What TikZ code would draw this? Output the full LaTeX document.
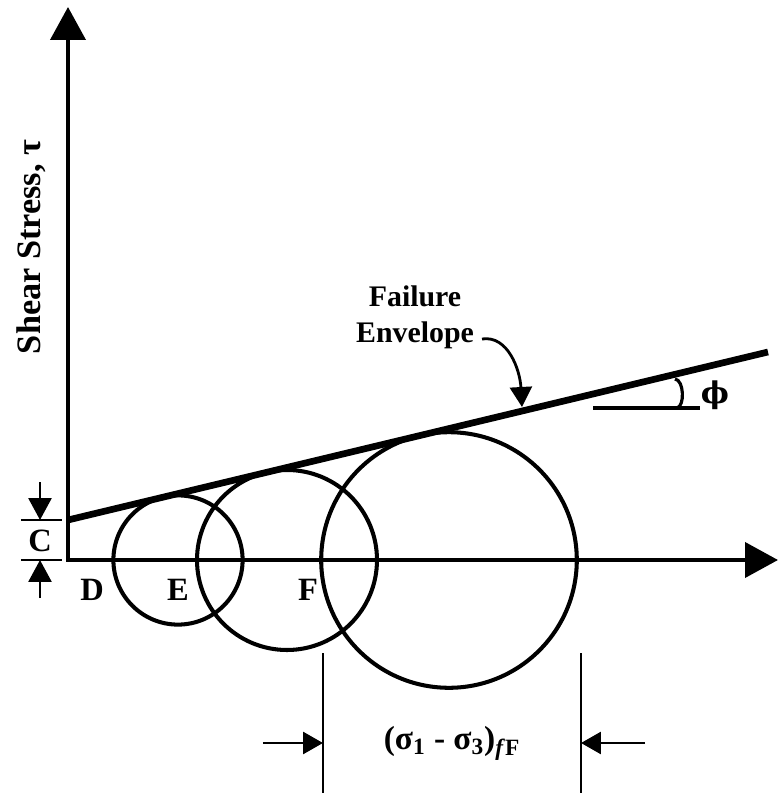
\documentclass[tikz,border=0pt]{standalone}
\usepackage{fontspec}
\setmainfont{Liberation Serif}
\newfontfamily\grec{DejaVu Serif}
\usetikzlibrary{arrows.meta}
\tikzset{
  axe/.style={line width=2.3pt,{Triangle[length=0.66cm,width=0.70cm]}-{Triangle[length=0.66cm,width=0.70cm]}},
  enveloppe/.style={line width=3.8pt},
  cercle/.style={line width=2.3pt},
  fleche/.style={line width=1.6pt,-{Triangle[length=0.40cm,width=0.44cm]}},
  cote/.style={line width=1.2pt},
  etiquette/.style={font=\bfseries\fontsize{17}{20.5}\selectfont,inner sep=0pt},
  lettre/.style={etiquette,font=\bfseries\fontsize{18.5}{21}\selectfont},
}

\begin{document}
\begin{tikzpicture}[x=0.02cm,y=0.02cm]
  \useasboundingbox (-68,-236) rectangle (710,560);
  % axes
  \coordinate (O) at (0,0);
  \coordinate (haut) at (0,553);
  \coordinate (droite) at (710,0);
  \draw[axe] (haut) -- (O) -- (droite);
  \node[etiquette,font=\bfseries\fontsize{19.5}{22}\selectfont,rotate=90] (ordonnee) at (-37,313) {Shear Stress, τ};
  % enveloppe de rupture et cercles
  \coordinate (C) at (0,40);
  \coordinate (bout) at (700,208);
  \draw[enveloppe] (C) -- (bout);
  \draw[cercle] (110,0) circle[radius=64.6];
  \draw[cercle] (219,0) circle[radius=90.0];
  \draw[cercle] (381,0) circle[radius=127.8];
  \node[lettre] (D) at (24,-30) {D};
  \node[lettre] (E) at (110,-30) {E};
  \node[lettre] (F) at (240,-30) {F};
  % cohesion C
  \coordinate (tHg) at (-47,40);
  \coordinate (tHd) at (-6,40);
  \coordinate (tBg) at (-47,0);
  \coordinate (tBd) at (-6,0);
  \draw[cote] (tHg) -- (tHd);
  \draw[cote] (tBg) -- (tBd);
  \coordinate (fH) at (-28,78);
  \coordinate (pH) at (-28,40);
  \coordinate (fB) at (-28,-38);
  \coordinate (pB) at (-28,0);
  \draw[fleche,-{Triangle[length=0.44cm,width=0.46cm]}] (fH) -- (pH);
  \draw[fleche,-{Triangle[length=0.44cm,width=0.46cm]}] (fB) -- (pB);
  \node[lettre] (coh) at (-28,19) {C};
  % legende de l'enveloppe
  \node[etiquette,align=center] (rupture) at (347,243) {Failure\\Envelope};
  \coordinate (depart) at (414,221);
  \coordinate (pointe) at (454,153);
  \draw[fleche] (depart) .. controls (440,225) and (452,190) .. (pointe);
  % angle phi
  \coordinate (hG) at (525,152);
  \coordinate (hD) at (632,152);
  \draw[line width=2pt] (hG) -- (hD);
  \coordinate (aH) at (607,181);
  \coordinate (aB) at (609,152);
  \draw[line width=1.8pt] (aH) .. controls (616,180) and (617,154) .. (aB);
  \node[etiquette,font=\grec\bfseries\fontsize{17}{20}\selectfont] (phi) at (647,165) {ϕ};
  % cote du deviateur
  \coordinate (gH) at (255,-93);
  \coordinate (gB) at (255,-233);
  \coordinate (dH) at (513,-93);
  \coordinate (dB) at (513,-233);
  \draw[cote] (gH) -- (gB);
  \draw[cote] (dH) -- (dB);
  \coordinate (gF) at (195,-183);
  \coordinate (gP) at (255,-183);
  \coordinate (dF) at (577,-183);
  \coordinate (dP) at (513,-183);
  \draw[fleche] (gF) -- (gP);
  \draw[fleche] (dF) -- (dP);
  \node[etiquette,font=\bfseries\fontsize{19}{22}\selectfont] (devia) at (384,-183) {(σ\textsubscript{1} - σ\textsubscript{3})\textsubscript{\textit{f}F}};
\end{tikzpicture}
\end{document}
